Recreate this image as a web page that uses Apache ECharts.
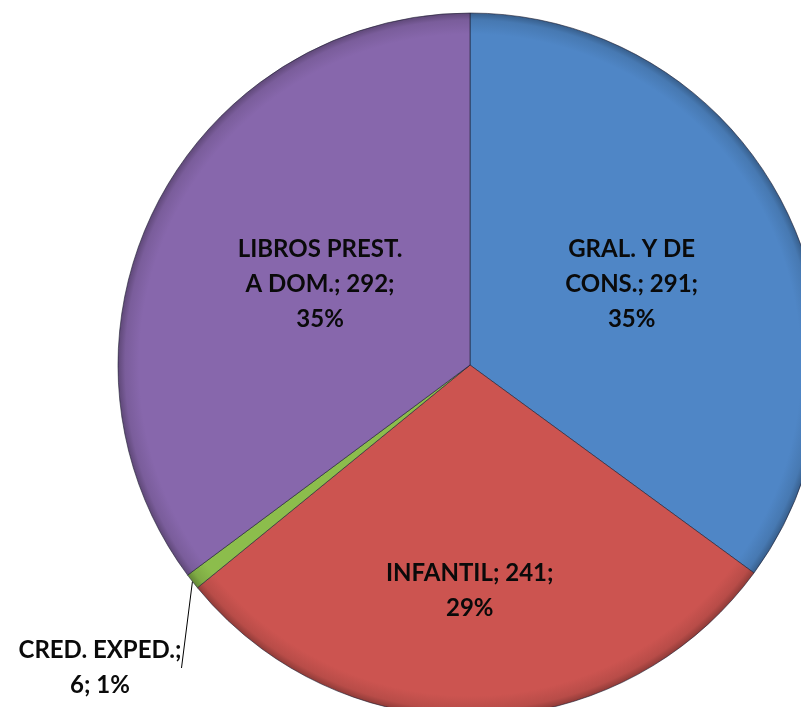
<!DOCTYPE html>
<html>
<head>
<meta charset="utf-8">
<script src="https://cdn.jsdelivr.net/npm/echarts@6/dist/echarts.min.js"></script>
<style>
  html, body { margin: 0; padding: 0; background: #fff; }
  #chart { width: 801px; height: 707px; }
</style>
</head>
<body>
<div id="chart"></div>
<script>
// categories and values, clockwise from 12 o'clock
const categories = ['GRAL. Y DE\nCONS.', 'INFANTIL', 'CRED. EXPED.', 'LIBROS PREST.\nA DOM.']
const values = [291, 241, 6, 292]
const percents = ['35%', '29%', '1%', '35%']
const colors = ['#4f86c6', '#cc5450', '#8cbd4c', '#8767ac']

const chart = echarts.init(document.getElementById('chart'))

const darken = (hex, k) => {
  const n = parseInt(hex.slice(1), 16)
  const r = Math.round(((n >> 16) & 255) * k)
  const g = Math.round(((n >> 8) & 255) * k)
  const b = Math.round((n & 255) * k)
  return 'rgb(' + r + ',' + g + ',' + b + ')'
}

// soft bevel: flat body, slightly darker rim
const shade = (c) => ({
  type: 'radial', x: 470, y: 365, r: 352, global: true,
  colorStops: [
    { offset: 0, color: c },
    { offset: 0.94, color: c },
    { offset: 0.98, color: darken(c, 0.9) },
    { offset: 1, color: darken(c, 0.7) }
  ]
})

const seriesData = categories.map((name, i) => ({
  name,
  value: values[i],
  pct: percents[i],
  itemStyle: { color: shade(colors[i]) }
}))
// nudge labels to where the original puts them
seriesData[0].label = { offset: [2, 0] }
seriesData[1].label = { offset: [-5, 47] }
seriesData[3].label = { offset: [10, 0] }
// CRED label goes outside with a leader line
seriesData[2].label = { position: 'outside', align: 'center', overflow: 'none' }
seriesData[2].labelLine = { show: true, length: 20, length2: 0, lineStyle: { color: '#000', width: 1 } }

const option = {
  animation: false,
  series: [
    {
      type: 'pie',
      center: [470, 365],
      radius: 352,
      startAngle: 90,
      clockwise: true,
      data: seriesData,
      itemStyle: {
        borderColor: 'rgba(30,30,50,0.6)',
        borderWidth: 1
      },
      label: {
        show: true,
        position: 'inside',
        fontFamily: 'Lato, "Open Sans", sans-serif',
        fontWeight: 'bold',
        fontSize: 24,
        lineHeight: 35,
        color: '#0a0a0a',
        align: 'center',
        formatter: (p) => {
          if (p.dataIndex === 2) return p.name + ';\n' + p.value + '; ' + p.data.pct
          return p.name + '; ' + p.value + ';\n' + p.data.pct
        }
      },
      labelLine: { show: false },
      labelLayout: (p) => {
        if (p.dataIndex === 2) {
          return { x: 100, y: 668, align: 'center', verticalAlign: 'middle' }
        }
      }
    }
  ]
}
chart.setOption(option)
</script>
</body>
</html>
